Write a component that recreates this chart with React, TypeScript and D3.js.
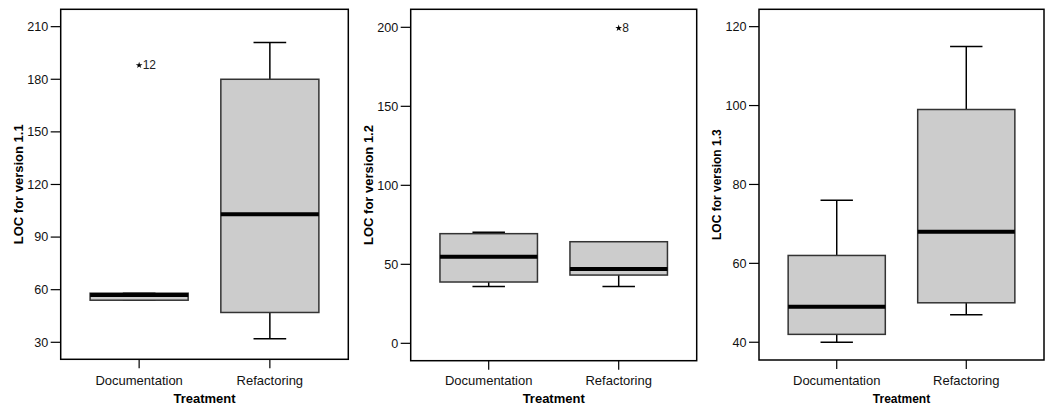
import React from 'react';
import * as d3 from 'd3';

// Treatment groups shown on every panel
const categories = ['Documentation', 'Refactoring'];

// Box statistics (min, q1, median, q3, max) per treatment
const v11Stats = [
  { min: 54, q1: 54, median: 57, q3: 58, max: 58 },
  { min: 32, q1: 47, median: 103, q3: 180, max: 201 },
];
const v12Stats = [
  { min: 36, q1: 38.8, median: 54.8, q3: 69.4, max: 70.3 },
  { min: 36, q1: 43.2, median: 47, q3: 64.3, max: 64.3 },
];
const v13Stats = [
  { min: 40, q1: 42, median: 49, q3: 62, max: 76 },
  { min: 47, q1: 50, median: 68, q3: 99, max: 115 },
];

// Extreme values (SPSS asterisks) with their case numbers
const v11Outliers = [{ category: 'Documentation', value: 188, label: '12' }];
const v12Outliers = [{ category: 'Refactoring', value: 199.5, label: '8' }];
const v13Outliers: { category: string; value: number; label: string }[] = [];

const v11Ticks = [30, 60, 90, 120, 150, 180, 210];
const v12Ticks = [0, 50, 100, 150, 200];
const v13Ticks = [40, 60, 80, 100, 120];

const yTitles = ['LOC for version 1.1', 'LOC for version 1.2', 'LOC for version 1.3'];
const xTitle = 'Treatment';

const FONT = '"Liberation Sans", Arial, Helvetica, sans-serif';

const panels = [
  { stats: v11Stats, outliers: v11Outliers, ticks: v11Ticks, title: yTitles[0],
    frame: { left: 60.7, right: 348.3, top: 9.3, bottom: 359.3 }, domain: [20.3, 219.9], titleSize: 13 },
  { stats: v12Stats, outliers: v12Outliers, ticks: v12Ticks, title: yTitles[1],
    frame: { left: 410.7, right: 696.7, top: 9.3, bottom: 360.7 }, domain: [-11, 211.4], titleSize: 13 },
  { stats: v13Stats, outliers: v13Outliers, ticks: v13Ticks, title: yTitles[2],
    frame: { left: 759, right: 1044, top: 9.3, bottom: 360 }, domain: [35.5, 124.4], titleSize: 12 },
];

function BoxPanel({ p }: { p: typeof panels[number] }) {
  const { left, right, top, bottom } = p.frame;
  const y = d3.scaleLinear().domain(p.domain).range([bottom, top]);
  const x = d3.scalePoint<string>().domain(categories).range([left, right]).padding(0.6);
  const step = x.step();
  const boxW = step * 0.75;
  const capW = step * 0.25;
  const star = d3.symbol().type(d3.symbolStar).size(14)();

  return (
    <g>
      {/* y axis ticks */}
      {p.ticks.map(t => (
        <g key={t}>
          <line x1={left - 10} x2={left} y1={y(t)} y2={y(t)} stroke="#000" strokeWidth={1.2} />
          <text x={left - 12.5} y={y(t)} dy="0.35em" textAnchor="end" fontSize={12.6} fill="#111">{t}</text>
        </g>
      ))}
      {/* boxes */}
      {p.stats.map((s, i) => {
        const cx = x(categories[i])!;
        return (
          <g key={i}>
            <line x1={cx} x2={cx} y1={y(s.q3)} y2={y(s.max)} stroke="#000" strokeWidth={1.5} />
            <line x1={cx} x2={cx} y1={y(s.q1)} y2={y(s.min)} stroke="#000" strokeWidth={1.5} />
            <line x1={cx - capW / 2} x2={cx + capW / 2} y1={y(s.max)} y2={y(s.max)} stroke="#000" strokeWidth={1.5} />
            <line x1={cx - capW / 2} x2={cx + capW / 2} y1={y(s.min)} y2={y(s.min)} stroke="#000" strokeWidth={1.5} />
            <rect x={cx - boxW / 2} y={y(s.q3)} width={boxW} height={y(s.q1) - y(s.q3)}
              fill="#cccccc" stroke="#333" strokeWidth={1.5} />
            <line x1={cx - boxW / 2} x2={cx + boxW / 2} y1={y(s.median)} y2={y(s.median)} stroke="#000" strokeWidth={4} />
          </g>
        );
      })}
      {/* extreme values */}
      {p.outliers.map((o, i) => {
        const cx = x(o.category)!;
        return (
          <g key={i}>
            <path d={star!} transform={`translate(${cx},${y(o.value)})`} fill="#000" />
            <text x={cx + 3.5} y={y(o.value)} dy="0.35em" fontSize={12} fill="#222">{o.label}</text>
          </g>
        );
      })}
      {/* frame */}
      <rect x={left} y={top} width={right - left} height={bottom - top} fill="none" stroke="#000" strokeWidth={1.5} />
      {/* x axis */}
      {categories.map(c => (
        <g key={c}>
          <line x1={x(c)} x2={x(c)} y1={bottom} y2={bottom + 9} stroke="#000" strokeWidth={1.2} />
          <text x={x(c)} y={384.8} textAnchor="middle" fontSize={13} fill="#111">{c}</text>
        </g>
      ))}
      <text x={(left + right) / 2} y={402.5} textAnchor="middle" fontSize={p.titleSize} fontWeight="bold" fill="#000">{xTitle}</text>
      <text transform={`translate(${left - 42.4},${(top + bottom) / 2}) rotate(-90)`} dy="0.35em"
        textAnchor="middle" fontSize={p.titleSize} fontWeight="bold" fill="#000">{p.title}</text>
    </g>
  );
}

export default function App() {
  return (
    <svg width={1045} height={407} style={{ position: 'absolute', left: 0, top: 0, background: '#fff' }}
      fontFamily={FONT}>
      {panels.map((p, i) => <BoxPanel key={i} p={p} />)}
    </svg>
  );
}
